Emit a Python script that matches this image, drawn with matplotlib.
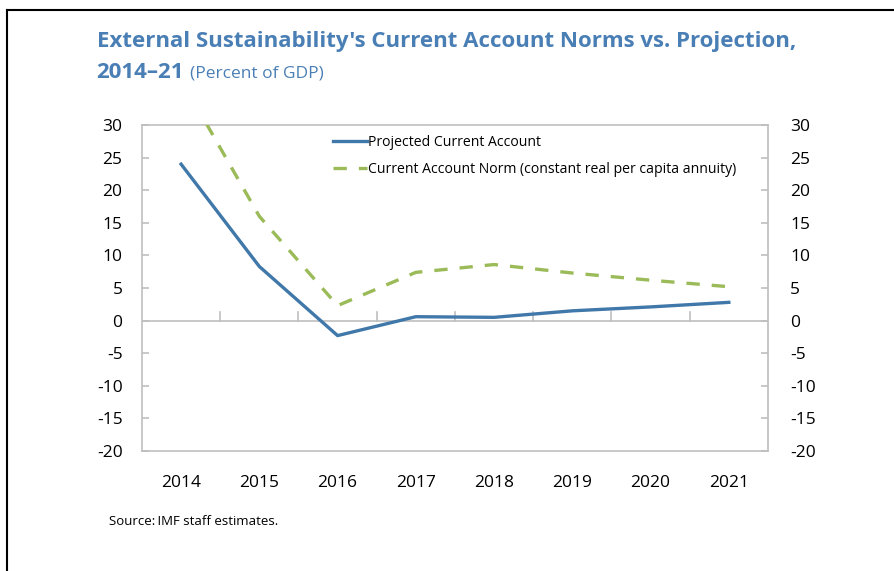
import matplotlib.pyplot as plt
import matplotlib.lines as mlines
from matplotlib.ticker import FixedLocator

plt.rcParams['font.family'] = ['Open Sans', 'DejaVu Sans']

# Current account, percent of GDP
years = ["2014", "2015", "2016", "2017", "2018", "2019", "2020", "2021"]
projected = [24.0, 8.3, -2.3, 0.6, 0.5, 1.5, 2.1, 2.8]
norm = [37.0, 16.0, 2.3, 7.4, 8.6, 7.3, 6.2, 5.2]

y_ticks = [-20, -15, -10, -5, 0, 5, 10, 15, 20, 25, 30]

blue = '#4178AA'
green = '#9BBB59'
title_color = '#4A7FB5'
grey = '#BFBFBF'

fig = plt.figure(figsize=(8.94, 5.71), dpi=100)

# black frame on the left and top of the figure
fig.add_artist(mlines.Line2D([0.008, 0.008], [0, 0.982], color='black', lw=1.5))
fig.add_artist(mlines.Line2D([0.008, 1.0], [0.982, 0.982], color='black', lw=1.5))

ax = fig.add_axes([0.1588, 0.2102, 0.7002, 0.5708])
x = list(range(len(years)))

ax.plot(x, projected, color=blue, lw=2.4, label='Projected Current Account', zorder=3)
ax.plot(x, norm, color=green, lw=2.4, dashes=(4, 3.6),
        label='Current Account Norm (constant real per capita annuity)', zorder=3)

ax.set_xlim(-0.5, len(years) - 0.5)
ax.set_ylim(-20, 30)

for s in ax.spines.values():
    s.set_color(grey)
    s.set_linewidth(1.2)

# zero line with ticks between categories
ax.axhline(0, color=grey, lw=1.2, zorder=1)
for b in range(len(years) - 1):
    ax.plot([b + 0.5, b + 0.5], [0, 1.3], color=grey, lw=1.2, zorder=1)

ax.set_xticks(x)
ax.set_xticklabels(years)
ax.tick_params(axis='x', length=0, pad=17, labelsize=12.5)

ax.yaxis.set_major_locator(FixedLocator(y_ticks))
ax.set_yticklabels([str(v) for v in y_ticks])
ax.tick_params(axis='y', direction='in', length=5, color=grey, width=1.2,
               labelsize=12.5, pad=14)

ax2 = ax.twinx()
ax2.set_ylim(-20, 30)
ax2.yaxis.set_major_locator(FixedLocator(y_ticks))
ax2.set_yticklabels([str(v) for v in y_ticks])
ax2.tick_params(axis='y', direction='in', length=5, color=grey, width=1.2,
                labelsize=12.5, pad=16)
for s in ax2.spines.values():
    s.set_visible(False)

leg = ax.legend(loc='upper left', bbox_to_anchor=(0.29, 1.0), frameon=False,
                fontsize=10.1, handlelength=2.4, handletextpad=0.1,
                labelspacing=0.85, borderaxespad=0.3)

fig.text(0.108, 0.918, "External Sustainability's Current Account Norms vs. Projection,",
         fontsize=16, fontweight='bold', color=title_color, va='baseline')
fig.text(0.108, 0.864, "2014\u201321", fontsize=16, fontweight='bold',
         color=title_color, va='baseline')
fig.text(0.213, 0.864, "(Percent of GDP)", fontsize=12.5, color=title_color,
         va='baseline')

fig.text(0.122, 0.08, "Source:\u2009IMF staff estimates.", fontsize=9.5, color='black')

fig.savefig('out.png', dpi=100)
